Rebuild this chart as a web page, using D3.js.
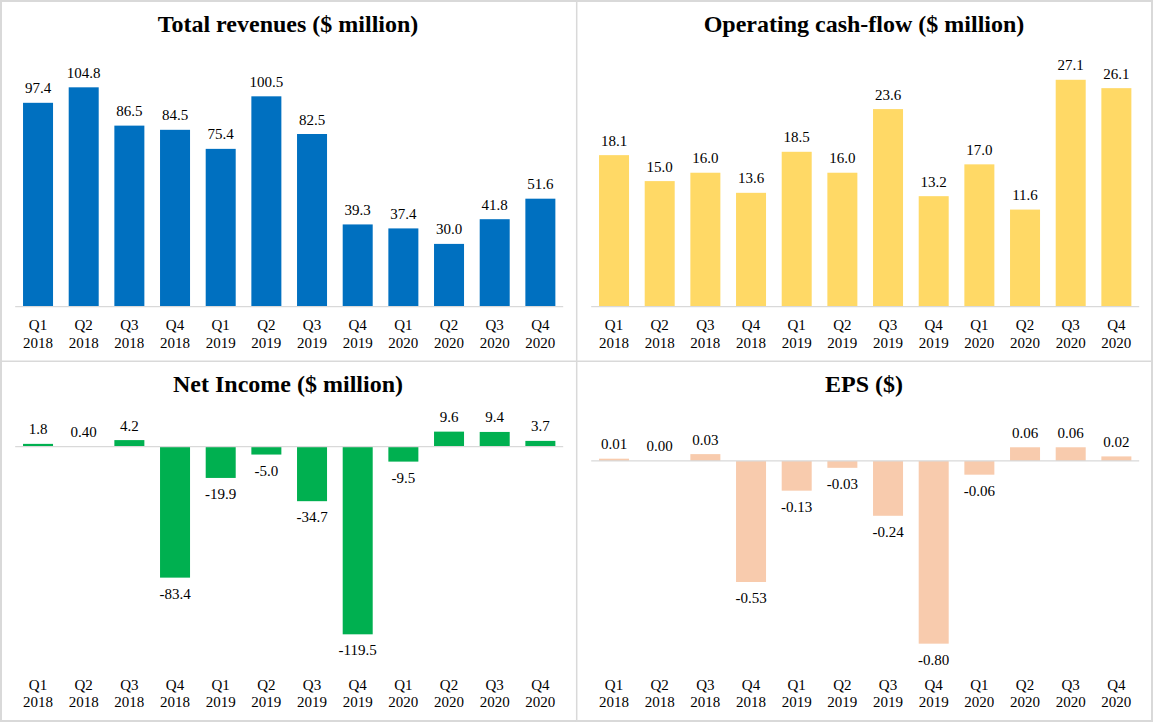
<!DOCTYPE html>
<html>
<head>
<meta charset="utf-8">
<script src="https://cdn.jsdelivr.net/npm/d3@7/dist/d3.min.js"></script>
<style>
  html, body { margin: 0; padding: 0; background: #fff; }
  svg { display: block; }
</style>
</head>
<body>
<script>
const quarters = ["Q1","Q2","Q3","Q4","Q1","Q2","Q3","Q4","Q1","Q2","Q3","Q4"];
const years = ["2018","2018","2018","2018","2019","2019","2019","2019","2020","2020","2020","2020"];

const revenues = [97.4, 104.8, 86.5, 84.5, 75.4, 100.5, 82.5, 39.3, 37.4, 30.0, 41.8, 51.6];
const operatingCashFlow = [18.1, 15.0, 16.0, 13.6, 18.5, 16.0, 23.6, 13.2, 17.0, 11.6, 27.1, 26.1];
const netIncome = [1.8, 0.40, 4.2, -83.4, -19.9, -5.0, -34.7, -119.5, -9.5, 9.6, 9.4, 3.7];
const netIncomeLabels = ["1.8", "0.40", "4.2", "-83.4", "-19.9", "-5.0", "-34.7", "-119.5", "-9.5", "9.6", "9.4", "3.7"];
const eps = [0.01, 0.00, 0.03, -0.53, -0.13, -0.03, -0.24, -0.80, -0.06, 0.06, 0.06, 0.02];

const FONT = "'Liberation Serif', 'Times New Roman', Times, 'DejaVu Serif', serif";
const W = 1153, H = 722;
const svg = d3.select("body").append("svg").attr("width", W).attr("height", H)
  .attr("font-family", FONT);

const fmt = f => d => d3.format(f)(d).replace("\u2212", "-");

const panels = [
  { title: "Total revenues ($ million)", values: revenues, labels: revenues.map(fmt(".1f")),
    domain: [0, 120], color: "#0070C0", x0: 0, y0: 0 },
  { title: "Operating cash-flow ($ million)", values: operatingCashFlow, labels: operatingCashFlow.map(fmt(".1f")),
    domain: [0, 30], color: "#FFD966", x0: 576, y0: 0 },
  { title: "Net Income ($ million)", values: netIncome, labels: netIncomeLabels,
    domain: [-140, 20], color: "#00B050", x0: 0, y0: 359.8 },
  { title: "EPS ($)", values: eps, labels: eps.map(fmt(".2f")),
    domain: [-0.9, 0.2], color: "#F8CBAD", x0: 576, y0: 359.8 }
];

panels.forEach(p => {
  const g = svg.append("g").attr("transform", `translate(${p.x0},${p.y0})`);
  const x = d3.scaleBand().domain(d3.range(quarters.length)).range([15.2, 563.2]).paddingInner(0.343).paddingOuter(0.1715);
  const y = d3.scaleLinear().domain(p.domain).range([306.7, 55.5]);

  g.append("text")
    .attr("x", 288).attr("y", 32.3)
    .attr("text-anchor", "middle")
    .attr("font-family", FONT)
    .attr("font-size", 24).attr("font-weight", "bold")
    .attr("fill", "#000")
    .text(p.title);

  g.selectAll("rect.bar").data(p.values).enter().append("rect")
    .attr("class", "bar")
    .attr("x", (d, i) => x(i))
    .attr("width", x.bandwidth())
    .attr("y", d => Math.min(y(d), y(0)))
    .attr("height", d => Math.abs(y(d) - y(0)))
    .attr("fill", p.color);

  g.append("line")
    .attr("x1", 15.2).attr("x2", 563.2)
    .attr("y1", y(0)).attr("y2", y(0))
    .attr("stroke", "#d9d9d9").attr("stroke-width", 1.2);

  g.selectAll("text.val").data(p.values).enter().append("text")
    .attr("class", "val")
    .attr("x", (d, i) => x(i) + x.bandwidth() / 2)
    .attr("y", d => d >= 0 ? y(d) - 9.5 : y(d) + 21)
    .attr("text-anchor", "middle")
    .attr("font-family", FONT)
    .attr("font-size", 15).attr("fill", "#000")
    .text((d, i) => p.labels[i]);

  g.selectAll("text.q").data(quarters).enter().append("text")
    .attr("class", "q")
    .attr("x", (d, i) => x(i) + x.bandwidth() / 2)
    .attr("y", 330)
    .attr("text-anchor", "middle")
    .attr("font-family", FONT)
    .attr("font-size", 15).attr("fill", "#000")
    .text(d => d);

  g.selectAll("text.yr").data(years).enter().append("text")
    .attr("class", "yr")
    .attr("x", (d, i) => x(i) + x.bandwidth() / 2)
    .attr("y", 347.7)
    .attr("text-anchor", "middle")
    .attr("font-family", FONT)
    .attr("font-size", 15).attr("fill", "#000")
    .text(d => d);
});

// panel borders
svg.append("rect").attr("x", 1).attr("y", 1).attr("width", 1151).attr("height", 720)
  .attr("fill", "none").attr("stroke", "#d9d9d9").attr("stroke-width", 2);
svg.append("line").attr("x1", 576.7).attr("x2", 576.7).attr("y1", 0).attr("y2", H)
  .attr("stroke", "#d9d9d9").attr("stroke-width", 1.5);
svg.append("line").attr("x1", 0).attr("x2", W).attr("y1", 361.2).attr("y2", 361.2)
  .attr("stroke", "#d9d9d9").attr("stroke-width", 1.5);
</script>
</body>
</html>
